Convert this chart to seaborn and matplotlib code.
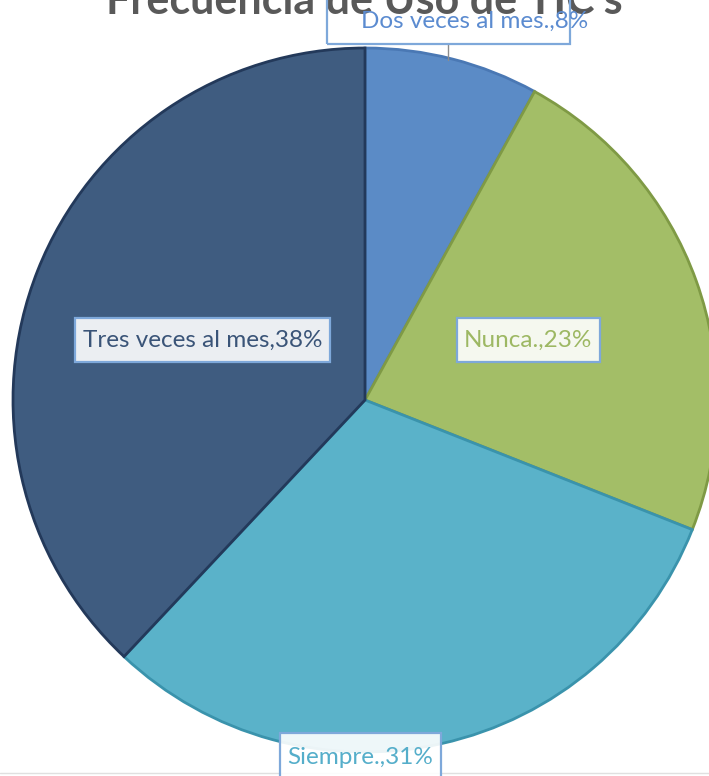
import matplotlib
matplotlib.use("Agg")
import matplotlib.pyplot as plt
from matplotlib.patches import Rectangle
import seaborn as sns

sns.set_theme(style="white")
plt.rcParams["font.family"] = ["Lato", "DejaVu Sans"]

# Data
categories = ["Dos veces al mes.", "Nunca.", "Siempre.", "Tres veces al mes"]
percentages = [8, 23, 31, 38]
title = "Frecuencia de Uso de TIC's"

fills = ["#5B8BC6", "#A3BE67", "#5AB2C9", "#3F5C80"]
edges = ["#4A78B4", "#7F9A45", "#3A93AC", "#23395A"]
text_colors = ["#5B8BD0", "#9DB863", "#55AECA", "#3A5478"]

W, H = 709, 776
fig = plt.figure(figsize=(W / 100, H / 100), dpi=100)
ax = fig.add_axes([0, 0, 1, 1])


def Y(py):
    return H - py


cx, cy, R = 365, Y(400), 352
wedges, _ = ax.pie(percentages, colors=fills, startangle=90, counterclock=False,
                   center=(cx, cy), radius=R,
                   wedgeprops=dict(linewidth=2.0))
for w, ec in zip(wedges, edges):
    w.set_edgecolor(ec)
    w.set_zorder(2)

ax.set_xlim(0, W)
ax.set_ylim(0, H)
ax.set_aspect("equal")
ax.axis("off")

# Title, partly cut by the top edge
ax.text(364, Y(14), title, ha="center", va="baseline", fontsize=31,
        fontweight="bold", color="#595959", zorder=1)

labels = [f"{c},{p}%" for c, p in zip(categories, percentages)]

# label box extents (x0, x1, y_top, y_bottom) and text centre in pixels
boxes = [(327, 570, -10, 44), (457, 600, 318, 362), (280, 441, 733, 790), (75, 330, 318, 362)]
centres = [(475, 21), (528, 340), (360, 757), (203, 340)]
box_fill = ["none", "white", "white", "white"]

# leader line for the small slice
ax.plot([448, 448], [Y(44), Y(60)], color="#8C8C8C", lw=1, zorder=3)

for lab, (x0, x1, yt, yb), (tx, ty), tc, fc in zip(labels, boxes, centres, text_colors, box_fill):
    if fc != "none":
        ax.add_patch(Rectangle((x0, Y(yb)), x1 - x0, yb - yt, facecolor=fc,
                               edgecolor="none", alpha=0.9, zorder=4))
    ax.add_patch(Rectangle((x0, Y(yb)), x1 - x0, yb - yt, facecolor="none",
                           edgecolor="#7EA8DA", lw=1.6, zorder=5))
    ax.text(tx, Y(ty), lab, ha="center", va="center", fontsize=17.5,
            color=tc, zorder=6)

# thin baseline at the bottom edge
ax.plot([0, W], [Y(773), Y(773)], color="#E0E0E0", lw=1, zorder=0.5)

fig.savefig("out.png", dpi=100, facecolor="white")
